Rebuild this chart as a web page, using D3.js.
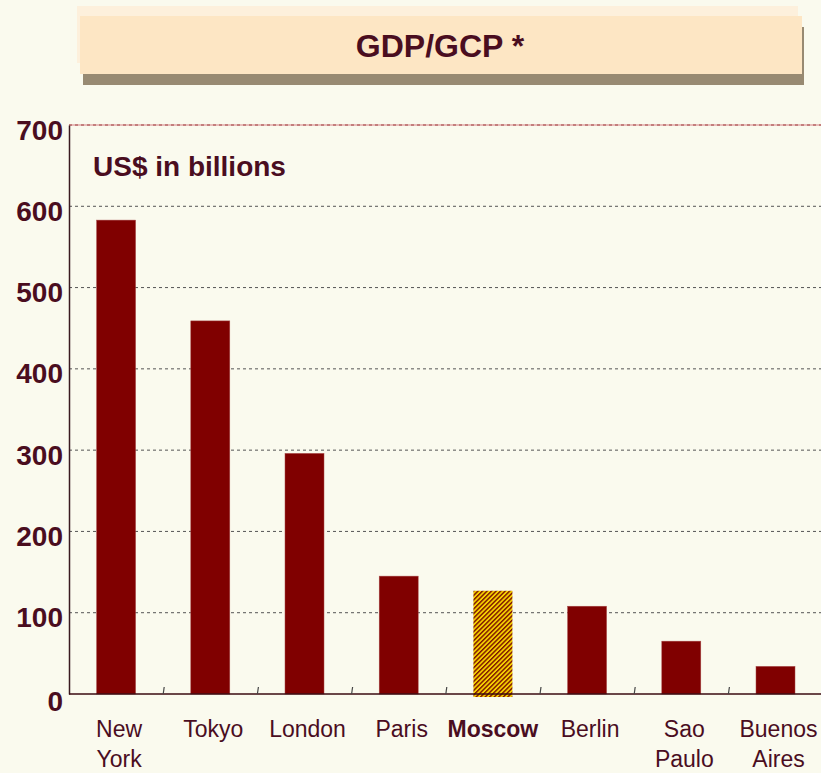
<!DOCTYPE html>
<html>
<head>
<meta charset="utf-8">
<script src="https://cdn.jsdelivr.net/npm/d3@7"></script>
<style>
  html, body { margin: 0; padding: 0; background: #fafaee; }
  svg { display: block; font-family: "Liberation Sans", Arial, sans-serif; }
</style>
</head>
<body>
<script>
// data
var cities = ["New York", "Tokyo", "London", "Paris", "Moscow", "Berlin", "Sao Paulo", "Buenos Aires"];
var gdp = [583, 459, 296, 145, 127, 108, 65, 34];
var yTicks = [0, 100, 200, 300, 400, 500, 600, 700];
var highlight = "Moscow";

var W = 821, H = 773;
var ink = "#4a0d1f";
var barColor = "#800000";

var svg = d3.select("body").append("svg")
  .attr("width", W)
  .attr("height", H);

// stripe pattern for the highlighted bar
var defs = svg.append("defs");
var pat = defs.append("pattern")
  .attr("id", "stripes")
  .attr("patternUnits", "userSpaceOnUse")
  .attr("width", 3.2)
  .attr("height", 3.2)
  .attr("patternTransform", "rotate(45)");
pat.append("rect").attr("width", 3.2).attr("height", 3.2).attr("fill", "#f5d000");
pat.append("rect").attr("width", 1.4).attr("height", 3.2).attr("fill", "#7a1000");

// title box
var tb = svg.append("g").attr("class", "title");
tb.append("rect").attr("x", 77).attr("y", 6).attr("width", 721).attr("height", 57).attr("fill", "#fdf0dc");
tb.append("rect").attr("x", 83).attr("y", 27).attr("width", 721).attr("height", 58).attr("fill", "#988a72");
tb.append("rect").attr("x", 80).attr("y", 16).attr("width", 722).attr("height", 58).attr("fill", "#fde6c4");
tb.append("text")
  .attr("x", 440).attr("y", 57)
  .attr("text-anchor", "middle")
  .attr("font-size", 32)
  .attr("font-weight", "bold")
  .attr("fill", ink)
  .text("GDP/GCP *");

// scales
var x = d3.scaleBand()
  .domain(cities)
  .range([69, 822.6])
  .paddingInner(0.586)
  .paddingOuter(0.293);

var y = d3.scaleLinear()
  .domain([0, 700])
  .range([694, 125]);

// grid lines
var grid = svg.append("g").attr("class", "grid");
grid.selectAll("line")
  .data(yTicks.filter(function (d) { return d > 0; }))
  .enter()
  .append("line")
  .attr("x1", 69).attr("x2", W)
  .attr("y1", function (d) { return y(d); })
  .attr("y2", function (d) { return y(d); })
  .attr("stroke", function (d) { return d === 700 ? "#a04040" : "#555"; })
  .attr("stroke-width", 1)
  .attr("stroke-dasharray", "3,3");

// the top line has a soft red base under the dashes
grid.insert("line", ":first-child")
  .attr("x1", 69).attr("x2", W)
  .attr("y1", y(700)).attr("y2", y(700))
  .attr("stroke", "#e0a8a8")
  .attr("stroke-width", 1.5);

// bars
svg.append("g").attr("class", "bars")
  .selectAll("rect")
  .data(cities)
  .enter()
  .append("rect")
  .attr("x", function (d) { return x(d); })
  .attr("y", function (d, i) { return y(gdp[i]); })
  .attr("width", x.bandwidth())
  .attr("height", function (d, i) { return y(0) - y(gdp[i]) + (d === highlight ? 3 : 0); })
  .attr("fill", function (d) { return d === highlight ? "url(#stripes)" : barColor; })
  .attr("stroke", function (d) { return d === highlight ? "none" : "#a84a4a"; })
  .attr("stroke-width", 0.5);

// y axis
var yAxis = d3.axisLeft(y).tickValues(yTicks).tickSize(0).tickPadding(6);
var gy = svg.append("g")
  .attr("transform", "translate(69,0)")
  .call(yAxis);
gy.select(".domain").attr("stroke", "#3a1a20").attr("stroke-width", 1.5);
gy.selectAll("text")
  .attr("fill", ink)
  .attr("font-size", 28)
  .attr("font-weight", "bold")
  .attr("font-family", "'Liberation Sans', Arial, sans-serif")
  .attr("dy", function (d) { return d === 0 ? "0.6em" : "0.5em"; });

// x axis line and the category boundary ticks
var step = x.step();
svg.append("line")
  .attr("x1", 69).attr("x2", W)
  .attr("y1", y(0)).attr("y2", y(0))
  .attr("stroke", "#3a0a10")
  .attr("stroke-width", 1.5);

svg.append("g").attr("class", "cat-ticks")
  .selectAll("line")
  .data(cities.slice(1))
  .enter()
  .append("line")
  .attr("x1", function (d) { return x(d) - step * x.paddingInner() / 2; })
  .attr("x2", function (d) { return x(d) - step * x.paddingInner() / 2 + 1; })
  .attr("y1", y(0))
  .attr("y2", y(0) - 7)
  .attr("stroke", "#444")
  .attr("stroke-width", 1.2);

// category labels
var labels = svg.append("g").attr("class", "labels")
  .selectAll("text")
  .data(cities)
  .enter()
  .append("text")
  .attr("x", function (d) { return x(d) + x.bandwidth() / 2 + (d === highlight ? 0 : 3); })
  .attr("y", 737)
  .attr("text-anchor", "middle")
  .attr("font-size", 23)
  .attr("font-weight", function (d) { return d === highlight ? "bold" : "normal"; })
  .attr("fill", ink);

labels.each(function (d) {
  var t = d3.select(this);
  var cx = +t.attr("x");
  d.split(" ").forEach(function (word, i) {
    t.append("tspan")
      .attr("x", cx)
      .attr("dy", i === 0 ? 0 : 30)
      .text(word);
  });
});

// unit note
svg.append("text")
  .attr("x", 93).attr("y", 176)
  .attr("font-size", 28)
  .attr("font-weight", "bold")
  .attr("fill", ink)
  .text("US$ in billions");
</script>
</body>
</html>
